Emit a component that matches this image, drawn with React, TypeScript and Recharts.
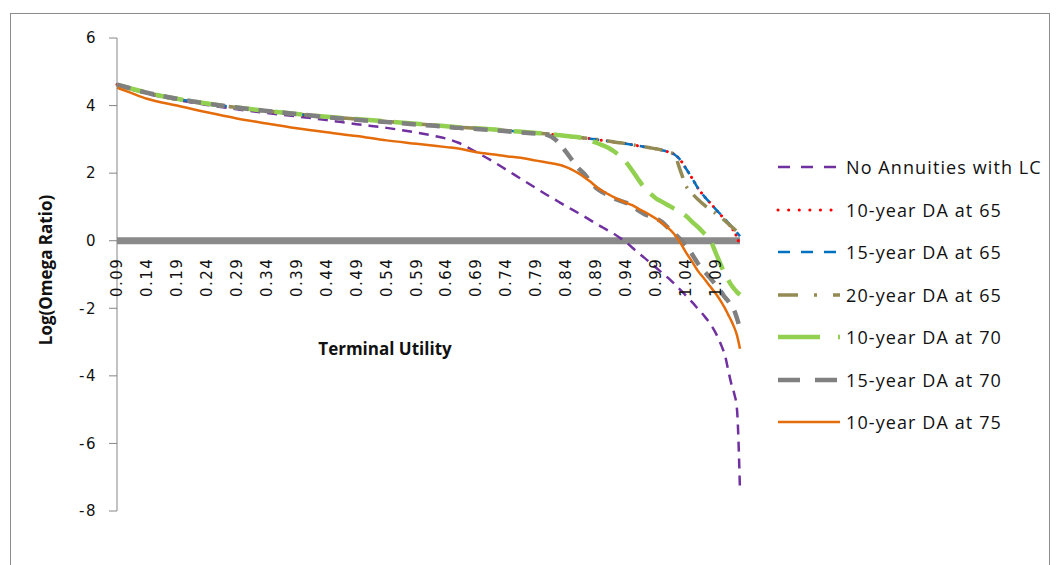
import { LineChart, Line, XAxis, YAxis, ReferenceLine } from "recharts";

const WIDTH = 1058;
const HEIGHT = 565;
const PLOT_TOP = 38;
const PLOT_BOTTOM = 511;
const Y_MIN = -8;
const Y_MAX = 6;
// pixel row of the y = 0 crossing, where the category labels hang
const ZERO_Y = PLOT_TOP + ((PLOT_BOTTOM - PLOT_TOP) * Y_MAX) / (Y_MAX - Y_MIN);

const utility = [
  0.09, 0.11, 0.14, 0.19, 0.24, 0.29, 0.34, 0.39, 0.44, 0.49, 0.54, 0.59,
  0.62, 0.64, 0.66, 0.69, 0.72, 0.74, 0.76, 0.79,
  0.81, 0.82, 0.83, 0.84, 0.85, 0.86, 0.87, 0.88, 0.89, 0.9, 0.91, 0.92, 0.93, 0.94, 0.95,
  0.96, 0.97, 0.98, 0.99, 1.0, 1.01, 1.02, 1.03, 1.04, 1.05, 1.06, 1.07, 1.08, 1.09, 1.1,
  1.105, 1.11, 1.115, 1.12, 1.125, 1.13,
];

const noAnnuities = [
  4.6, 4.5, 4.35, 4.17, 4.02, 3.89, 3.78, 3.68, 3.57, 3.45, 3.34, 3.2,
  3.1, 3.02, 2.9, 2.62, 2.32, 2.1, 1.88, 1.55,
  1.33, 1.23, 1.12, 1.02, 0.92, 0.82, 0.72, 0.61, 0.5, 0.4, 0.3, 0.2, 0.08, -0.05, -0.2,
  -0.36, -0.5, -0.65, -0.8, -0.95, -1.1, -1.27, -1.45, -1.63, -1.82, -2.02, -2.22, -2.45, -2.75, -3.15,
  -3.4, -3.8, -4.2, -4.5, -5.0, -7.4,
];

const da10at65 = [
  4.62, 4.52, 4.38, 4.2, 4.06, 3.94, 3.84, 3.75, 3.67, 3.6, 3.53, 3.46,
  3.42, 3.39, 3.36, 3.33, 3.29, 3.26, 3.23, 3.19,
  3.16, 3.14, 3.12, 3.1, 3.08, 3.06, 3.04, 3.02, 3.0, 2.97, 2.95, 2.92, 2.9, 2.87, 2.84,
  2.81, 2.78, 2.75, 2.72, 2.68, 2.63, 2.56, 2.4, 2.13, 1.85, 1.55, 1.32, 1.12, 0.92, 0.72,
  0.62, 0.51, 0.4, 0.28, 0.1, -0.15,
];

const da15at65 = [
  4.62, 4.52, 4.38, 4.2, 4.06, 3.94, 3.84, 3.75, 3.67, 3.6, 3.53, 3.46,
  3.42, 3.39, 3.36, 3.33, 3.29, 3.26, 3.23, 3.19,
  3.16, 3.14, 3.12, 3.1, 3.08, 3.06, 3.04, 3.02, 3.0, 2.97, 2.95, 2.92, 2.9, 2.87, 2.84,
  2.81, 2.78, 2.75, 2.72, 2.68, 2.63, 2.56, 2.4, 2.13, 1.85, 1.55, 1.32, 1.12, 0.92, 0.74,
  0.64, 0.54, 0.44, 0.34, 0.24, 0.13,
];

const da20at65 = [
  4.62, 4.52, 4.38, 4.2, 4.06, 3.94, 3.84, 3.75, 3.67, 3.6, 3.53, 3.46,
  3.42, 3.39, 3.36, 3.33, 3.29, 3.26, 3.23, 3.19,
  3.16, 3.14, 3.12, 3.1, 3.08, 3.06, 3.04, 3.02, 3.0, 2.97, 2.95, 2.92, 2.9, 2.87, 2.84,
  2.81, 2.78, 2.75, 2.72, 2.68, 2.63, 2.56, 2.1, 1.62, 1.4, 1.22, 1.06, 0.92, 0.8, 0.67,
  0.59, 0.51, 0.43, 0.35, 0.27, 0.2,
];

const da10at70 = [
  4.62, 4.52, 4.38, 4.2, 4.06, 3.94, 3.84, 3.75, 3.67, 3.6, 3.53, 3.46,
  3.42, 3.39, 3.36, 3.33, 3.29, 3.26, 3.23, 3.19,
  3.16, 3.14, 3.12, 3.1, 3.08, 3.06, 3.02, 2.97, 2.9, 2.83, 2.75, 2.64, 2.5, 2.32, 2.08,
  1.82, 1.58, 1.4, 1.25, 1.15, 1.05, 0.95, 0.85, 0.73, 0.56, 0.4, 0.22, 0.03, -0.38, -0.8,
  -1.0, -1.15, -1.3, -1.42, -1.52, -1.6,
];

const da15at70 = [
  4.62, 4.52, 4.38, 4.2, 4.06, 3.94, 3.84, 3.75, 3.66, 3.58, 3.51, 3.44,
  3.4, 3.37, 3.34, 3.31, 3.27, 3.24, 3.21, 3.17,
  3.12, 3.02, 2.85, 2.62, 2.38, 2.15, 1.98, 1.75, 1.56, 1.44, 1.35, 1.25, 1.18, 1.12, 1.02,
  0.9, 0.79, 0.72, 0.66, 0.55, 0.38, 0.22, 0.05, -0.15, -0.4, -0.68, -0.9, -1.1, -1.32, -1.55,
  -1.68, -1.78, -1.92, -2.05, -2.3, -2.6,
];

const da10at75 = [
  4.53, 4.4, 4.2, 4.0, 3.8, 3.62, 3.47, 3.33, 3.21, 3.1, 2.97, 2.87,
  2.81, 2.77, 2.73, 2.62, 2.55, 2.5, 2.46, 2.37,
  2.31, 2.28, 2.24, 2.18, 2.1, 2.0, 1.88, 1.75, 1.6, 1.48, 1.38, 1.28, 1.2, 1.12, 1.05,
  0.95, 0.86, 0.76, 0.65, 0.52, 0.38, 0.2, -0.05, -0.35, -0.62, -0.9, -1.12, -1.35, -1.58, -1.85,
  -2.0, -2.18, -2.35, -2.55, -2.8, -3.2,
];

const xTicks = [
  0.09, 0.14, 0.19, 0.24, 0.29, 0.34, 0.39, 0.44, 0.49, 0.54, 0.59, 0.64, 0.69, 0.74,
  0.79, 0.84, 0.89, 0.94, 0.99, 1.04, 1.09,
];
const yTicks = [-8, -6, -4, -2, 0, 2, 4, 6];

const series = [
  { key: "noAnn", name: "No Annuities with LC", values: noAnnuities, color: "#7030A0", width: 2.5, dash: "10 7", legendDash: "12 11", cap: "butt" },
  { key: "d1065", name: "10-year DA at 65", values: da10at65, color: "#FF0000", width: 3, dash: "0.1 6", legendDash: "0.1 10.5", cap: "round" },
  { key: "d1565", name: "15-year DA at 65", values: da15at65, color: "#0070C0", width: 2.5, dash: "10 7", legendDash: "12 11", cap: "butt" },
  { key: "d2065", name: "20-year DA at 65", values: da20at65, color: "#948A54", width: 3.5, dash: "18 9 2 9", legendDash: "20 16 3 16", cap: "butt" },
  { key: "d1070", name: "10-year DA at 70", values: da10at70, color: "#92D050", width: 4.5, dash: "28 12", legendDash: "42 18", cap: "butt" },
  { key: "d1570", name: "15-year DA at 70", values: da15at70, color: "#808080", width: 4.5, dash: "14 10", legendDash: "22 15", cap: "butt" },
  { key: "d1075", name: "10-year DA at 75", values: da10at75, color: "#E46C0A", width: 2.5, dash: undefined, legendDash: undefined, cap: "butt" },
];

const data = utility.map((u, i) => {
  const row: Record<string, number> = { u };
  series.forEach((s) => {
    row[s.key] = s.values[i];
  });
  return row;
});

const XTick = ({ x, payload }: any) => (
  <text
    transform={`translate(${x},${ZERO_Y + 17}) rotate(-90)`}
    textAnchor="end"
    dominantBaseline="central"
    fontSize={15}
    fontFamily="DejaVu Sans"
    letterSpacing={1.5}
    fill="#111"
  >
    {payload.value.toFixed(2)}
  </text>
);

function LegendBox() {
  return (
    <div style={{ position: "absolute", left: 776, top: 0 }}>
      {series.map((s, i) => (
        <div
          key={s.key}
          style={{
            position: "absolute",
            top: 167 + i * 42.5 - 12,
            left: 0,
            height: 24,
            display: "flex",
            alignItems: "center",
            whiteSpace: "nowrap",
          }}
        >
          <svg width={66} height={10} style={{ marginRight: 4 }}>
            <line
              x1={2}
              y1={5}
              x2={64}
              y2={5}
              stroke={s.color}
              strokeWidth={s.width}
              strokeDasharray={s.legendDash}
              strokeLinecap={s.cap as any}
            />
          </svg>
          <span style={{ fontFamily: "Open Sans", fontSize: 18, letterSpacing: 1.1, color: "#111" }}>
            {s.name}
          </span>
        </div>
      ))}
    </div>
  );
}

export default function App() {
  return (
    <div style={{ position: "absolute", left: 0, top: 0, width: WIDTH, height: HEIGHT, background: "#fff", overflow: "hidden" }}>
      <div
        style={{
          position: "absolute",
          left: 10,
          top: 13,
          width: 1040,
          height: 600,
          border: "1px solid #8c8c8c",
          boxSizing: "border-box",
        }}
      />
      <LineChart
        width={WIDTH}
        height={HEIGHT}
        data={data}
        margin={{ top: PLOT_TOP, right: 318, left: 0, bottom: 24 }}
        style={{ position: "absolute", left: 0, top: 0 }}
      >
        <XAxis
          dataKey="u"
          type="number"
          domain={[0.09, 1.13]}
          ticks={xTicks}
          interval={0}
          axisLine={false}
          tickLine={false}
          height={30}
          tick={<XTick />}
        />
        <YAxis
          domain={[Y_MIN, Y_MAX]}
          ticks={yTicks}
          width={117}
          axisLine={{ stroke: "#868686" }}
          tickLine={{ stroke: "#868686" }}
          tickSize={8}
          tickMargin={12}
          tick={{ fontSize: 15, fontFamily: "DejaVu Sans", fill: "#111", letterSpacing: 1.5 }}
        />
        <ReferenceLine y={0} stroke="#8a8a8a" strokeWidth={7} />
        {series.map((s) => (
          <Line
            key={s.key}
            dataKey={s.key}
            name={s.name}
            type="monotone"
            stroke={s.color}
            strokeWidth={s.width}
            strokeDasharray={s.dash}
            strokeLinecap={s.cap as any}
            dot={false}
            isAnimationActive={false}
          />
        ))}
      </LineChart>
      <div
        style={{
          position: "absolute",
          left: 45,
          top: 270,
          transform: "translate(-50%, -50%) rotate(-90deg)",
          fontFamily: "Open Sans",
          fontWeight: 700,
          fontSize: 17,
          whiteSpace: "nowrap",
          color: "#111",
        }}
      >
        Log(Omega Ratio)
      </div>
      <div
        style={{
          position: "absolute",
          left: 385,
          top: 348,
          transform: "translate(-50%, -50%)",
          fontFamily: "Open Sans",
          fontWeight: 700,
          fontSize: 17,
          whiteSpace: "nowrap",
          color: "#111",
        }}
      >
        Terminal Utility
      </div>
      <LegendBox />
    </div>
  );
}
